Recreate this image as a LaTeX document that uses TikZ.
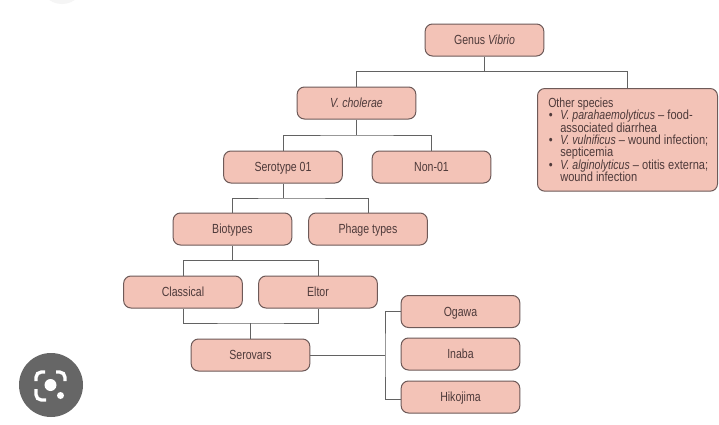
\documentclass[tikz,border=0pt]{standalone}
\usepackage{fontspec}
\setmainfont[FakeStretch=0.8]{Liberation Sans}
\newfontfamily\listfont[FakeStretch=0.84,ItalicFeatures={FakeStretch=0.8}]{Liberation Sans}
\usetikzlibrary{calc}
\definecolor{boxfill}{HTML}{F3C3B7}
\definecolor{boxline}{HTML}{6E5A58}
\definecolor{linkc}{HTML}{626262}
\definecolor{textc}{HTML}{4E3A3A}
\tikzset{
  x=0.75pt,y=-0.75pt,
  box/.style={draw=boxline,fill=boxfill,line width=0.75pt,rounded corners=5.5pt,text=textc,font=\fontsize{9.9pt}{10pt}\selectfont,minimum width=89pt,minimum height=24pt,inner sep=0pt,align=center,text height=7pt,text depth=0pt},
  link/.style={draw=linkc,line width=0.65pt},
  lensline/.style={draw=white,line width=2.5pt,rounded corners=4pt},
}
\newcommand{\otherbullet}{\makebox[9pt][l]{\hspace{0.4pt}\textbullet}}
\begin{document}
\begin{tikzpicture}
\useasboundingbox (0,0) rectangle (719,425);
\fill[white] (0,0) rectangle (719,425);
% faint circle at the top edge
\begin{scope}
\clip (0,0) rectangle (719,425);
\fill[black!4] (62,-18) circle (22);
\end{scope}
% boxes
\node[box] (genus) at (484.5,40) {Genus \textit{Vibrio}};
\node[box] (chol) at (356.5,103) {\textit{V. cholerae}};
\node[box] (sero) at (283,167) {Serotype 01};
\node[box] (non) at (431.5,167) {Non-01};
\node[box] (bio) at (232.5,229) {Biotypes};
\node[box] (phage) at (368,229) {Phage types};
\node[box] (class) at (183,292) {Classical};
\node[box] (eltor) at (318,292) {Eltor};
\node[box] (serov) at (250.5,355) {Serovars};
\node[box] (ogawa) at (460.5,311.5) {Ogawa};
\node[box] (inaba) at (460.5,354) {Inaba};
\node[box] (hiko) at (460.5,397) {Hikojima};
\node[draw=boxline,fill=boxfill,line width=0.75pt,rounded corners=5.5pt,minimum width=135pt,minimum height=77pt,anchor=north west,inner sep=0pt] (other) at (537,88) {};
\node[text=textc,anchor=north west,inner sep=0pt,font=\fontsize{9.9pt}{9.25pt}\selectfont,align=left] (othertext) at (548,97.5) {Other species\\
{\listfont\otherbullet\textit{V. parahaemolyticus} – food-}\\
{\listfont\hspace*{9pt}associated diarrhea}\\
{\listfont\otherbullet\textit{V. vulnificus} – wound infection;}\\
{\listfont\hspace*{9pt}septicemia}\\
{\listfont\otherbullet\textit{V. alginolyticus} – otitis externa;}\\
{\listfont\hspace*{9pt}wound infection}};
% junction coordinates
\coordinate (j1) at (genus.south |- 0,71.5);
\coordinate (j2) at (chol.south |- 0,135);
\coordinate (j3) at (sero.south |- 0,198);
\coordinate (j4) at (bio.south |- 0,260.5);
\coordinate (j5) at (serov.north |- 0,323);
\coordinate (j6) at (385,355);
\coordinate (otop) at (627,88);
% connectors
\draw[link] (genus.south) -- (j1);
\draw[link] (chol.north) |- (j1) -| (otop);
\draw[link] (chol.south) -- (j2);
\draw[link] (sero.north) |- (j2) -| (non.north);
\draw[link] (sero.south) -- (j3);
\draw[link] (bio.north) |- (j3) -| (phage.north);
\draw[link] (bio.south) -- (j4);
\draw[link] (class.north) |- (j4) -| (eltor.north);
\draw[link] (class.south) |- (j5) -| (eltor.south);
\draw[link] (j5) -- (serov.north);
\draw[link] (serov.east) -- (j6);
\draw[link] (ogawa.west) -| (j6) |- ([yshift=-1.9pt]hiko.west);
% lens badge
\fill[black!60] (51,385) circle (32);
\draw[lensline] (36,381) -- (36,372) -- (45,372);
\draw[lensline] (56,372) -- (65,372) -- (65,381);
\draw[lensline] (36,389) -- (36,400) -- (46,400);
\fill[white] (50.5,385) circle (6);
\fill[white] (60.5,395.5) circle (3.5);
\end{tikzpicture}
\end{document}
